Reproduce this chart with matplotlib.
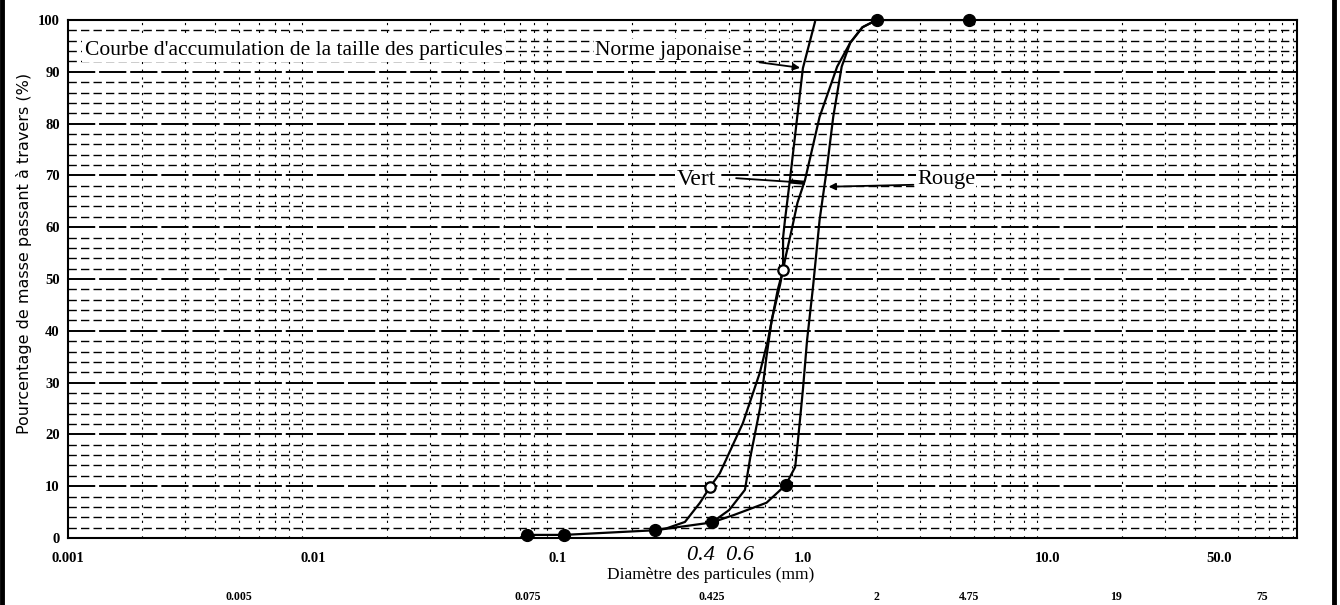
import numpy as np
import matplotlib
matplotlib.use("Agg")
import matplotlib.pyplot as plt
import matplotlib.transforms as mtrans
from matplotlib.lines import Line2D
from matplotlib.ticker import FixedLocator, LogLocator, MultipleLocator, NullFormatter

plt.rcParams['font.family'] = ['Liberation Serif', 'DejaVu Serif']

# courbe "Rouge" : points noirs (tamis) et tracé
rouge_pts_x = [0.075, 0.106, 0.25, 0.425, 0.85, 2.0, 4.75]
rouge_pts_y = [0.6, 0.6, 1.5, 3.0, 10.2, 100, 100]
rouge_x = [0.075, 0.106, 0.25, 0.425, 0.52, 0.71, 0.85, 0.93, 0.955, 1.0, 1.04,
           1.10, 1.17, 1.25, 1.33, 1.44, 1.56, 1.75, 2.0, 4.75]
rouge_y = [0.6, 0.6, 1.5, 3.0, 4.4, 6.8, 10.2, 13.7, 18.9, 28.6, 38.2,
           48.5, 61.4, 71.0, 81.3, 91.0, 95.6, 98.6, 100, 100]

# courbe "Vert"
vert_x = [0.425, 0.50, 0.58, 0.61, 0.67, 0.71, 0.746, 0.806, 0.853, 0.90, 0.95,
          1.02, 1.17, 1.38, 1.56, 1.75, 2.0]
vert_y = [3.0, 5.4, 9.3, 15.6, 25.3, 35.0, 42.1, 48.8, 54.6, 59.5, 64.7,
          69.1, 81.3, 91.0, 95.6, 98.6, 100]

# courbe "Norme japonaise" avec les cercles ouverts
norme_x = [0.25, 0.279, 0.33, 0.38, 0.417, 0.458, 0.569, 0.667, 0.72, 0.79, 0.83,
           0.83, 0.845, 0.885, 1.0, 1.12]
norme_y = [1.5, 1.9, 3.1, 6.8, 9.8, 12.5, 22.2, 31.9, 38.2, 48.0, 51.7,
           58.0, 61.4, 69.1, 90.7, 99.6]
open_x = [0.417, 0.83]
open_y = [9.8, 51.7]

xticks = [0.001, 0.01, 0.1, 1.0, 10.0, 50.0]
xtick_labels = ['0.001', '0.01', '0.1', '1.0', '10.0', '50.0']
sieves = [0.005, 0.075, 0.425, 2, 4.75, 19, 75]
sieve_labels = ['0.005', '0.075', '0.425', '2', '4.75', '19', '75']

W, H = 1340, 605
fig = plt.figure(figsize=(W / 100, H / 100), dpi=100)
ax = fig.add_axes([68 / W, (H - 538) / H, 1229 / W, 518 / H])
ax.set_xscale('log')
ax.set_xlim(0.001, 104)
ax.set_ylim(0, 100)

# grille
ax.yaxis.set_major_locator(MultipleLocator(10))
ax.yaxis.set_minor_locator(MultipleLocator(2))
ax.xaxis.set_major_locator(FixedLocator(xticks))
ax.xaxis.set_minor_locator(LogLocator(base=10, subs=np.arange(1, 10), numticks=60))
ax.xaxis.set_minor_formatter(NullFormatter())
ax.set_xticklabels(xtick_labels)
ax.grid(False)
ax.grid(True, axis='y', which='major', color='black', lw=1.4, ls=(0, (14, 2)))
ax.grid(True, axis='y', which='minor', color='black', lw=1.0, ls=(0, (6, 3)))
ax.grid(True, axis='x', which='minor', color='black', lw=0.8, ls=(0, (2, 5)))
ax.tick_params(which='both', length=0)
ax.tick_params(axis='x', pad=10, labelsize=10.5)
ax.tick_params(axis='y', pad=6, labelsize=10.5)
for lab in ax.get_xticklabels() + ax.get_yticklabels():
    lab.set_fontweight('bold')
for s in ax.spines.values():
    s.set_linewidth(1.5)

# courbes
ax.plot(norme_x, norme_y, color='black', lw=1.6, zorder=3)
ax.plot(vert_x, vert_y, color='black', lw=1.6, zorder=3)
ax.plot(rouge_x, rouge_y, color='black', lw=1.6, zorder=3)
ax.plot(rouge_pts_x, rouge_pts_y, 'o', color='black', ms=8.5, zorder=4, clip_on=False)
ax.plot(open_x, open_y, 'o', mfc='white', mec='black', mew=1.6, ms=7.5, zorder=4)

# textes et flèches
ax.text(0.00117, 94.2, "Courbe d'accumulation de la taille des particules", fontsize=15.5,
        ha='left', va='center', zorder=5,
        bbox=dict(fc='white', ec='none', pad=2))
ax.text(0.1416, 94.2, "Norme japonaise", fontsize=15.5, ha='left', va='center', zorder=5,
        bbox=dict(fc='white', ec='none', pad=1))
ax.text(0.306, 69.3, "Vert", fontsize=17, ha='left', va='center', zorder=5,
        bbox=dict(fc='white', ec='none', pad=1))
ax.text(2.92, 69.3, "Rouge", fontsize=16, ha='left', va='center', zorder=5,
        bbox=dict(fc='white', ec='none', pad=1))
arrow = dict(arrowstyle='-|>', color='black', lw=1.3, mutation_scale=10)
ax.annotate('', xy=(1.0, 90.7), xytext=(0.648, 91.9), arrowprops=arrow, zorder=5)
ax.annotate('', xy=(1.0, 68.6), xytext=(0.52, 69.5),
            arrowprops=dict(arrowstyle='-', color='black', lw=1.3), zorder=5)
ax.plot([0.9, 1.0], [68.8, 68.6], color='black', lw=3, zorder=5)
ax.annotate('', xy=(1.24, 67.8), xytext=(2.9, 68.2), arrowprops=arrow, zorder=5)

trans = mtrans.blended_transform_factory(ax.transData, ax.transAxes)
ax.text(0.336, -0.033, "0.4  0.6", fontsize=16, style='italic', ha='left', va='center',
        transform=trans, clip_on=False)
for xv, lab in zip(sieves, sieve_labels):
    ax.text(xv, -0.114, lab, fontsize=8.5, fontweight='bold', ha='center', va='center',
            transform=trans, clip_on=False)

fig.text(711 / W, 1 - 575 / H, "Diamètre des particules (mm)", fontsize=12.5,
         ha='center', va='center')
fig.text(24 / W, 1 - 253 / H, "Pourcentage de masse passant à travers (%)",
         fontsize=11.5, family=['DejaVu Sans'], rotation=90, ha='center', va='center')

# bords noirs du scan
fig.add_artist(Line2D([2 / W, 2 / W], [0, 1], lw=3.5, color='black'))
fig.add_artist(Line2D([1334 / W, 1334 / W], [0, 1], lw=3.5, color='black'))

fig.savefig('out.png', dpi=100)
